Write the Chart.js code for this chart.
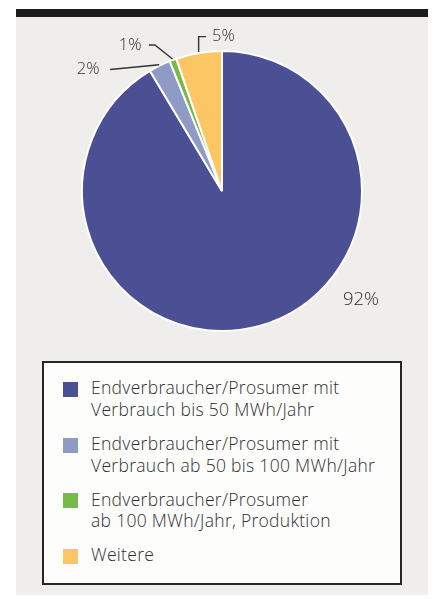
<!DOCTYPE html>
<html>
<head>
<meta charset="utf-8">
<script src="https://cdn.jsdelivr.net/npm/chart.js@4.4.1/dist/chart.umd.min.js"></script>
<style>
  html, body { margin:0; padding:0; background:#ffffff; width:434px; height:599px; overflow:hidden; }
  #panel { position:absolute; left:16px; top:9px; width:412px; height:586px; background:#efeeec; }
  #bar { position:absolute; left:16px; top:9px; width:412px; height:8px; background:#1c1c1c; }
  #chartWrap { position:absolute; left:0; top:0; width:434px; height:360px; }
  #legend { position:absolute; left:42px; top:361px; width:356px; height:220px; border:2px solid #262626;
            background:#fdfdfc; font-family:"Open Sans", Lato, sans-serif; font-weight:300; font-size:17.5px;
            letter-spacing:0.3px; line-height:21.7px; color:#2e2e2e; }
  .item { position:relative; padding-left:47px; margin-bottom:12.3px; white-space:nowrap; }
  .item:first-child { margin-top:14.3px; }
  .sw { position:absolute; left:19px; top:4.7px; width:15px; height:15px; }
</style>
</head>
<body>
<div id="panel"></div>
<div id="bar"></div>
<div id="chartWrap"><canvas id="c" width="434" height="360"></canvas></div>
<div id="legend"></div>
<script>
// ---- data ----
const categories = [
  ["Endverbraucher/Prosumer mit", "Verbrauch bis 50 MWh/Jahr"],
  ["Endverbraucher/Prosumer mit", "Verbrauch ab 50 bis 100 MWh/Jahr"],
  ["Endverbraucher/Prosumer", "ab 100 MWh/Jahr, Produktion"],
  ["Weitere"]
];
const shares = [91.4, 2.5, 0.8, 5.3];
const shareLabels = ["92%", "2%", "1%", "5%"];
const colors = ["#4b4f93", "#8f9ac5", "#77bb46", "#fcc665"];

// ---- label layout (relative to each slice's outer mid-point) ----
const labelLayout = [
  { polar: true, angleDeg: 128, distFactor: 1.26, size: 18.5 },
  { path: [[0,0],[-49,4.7]], text: [-59.7, 9], align: "right", size: 16.5 },
  { path: [[0,0],[-17.7,-14],[-23.7,-14]], text: [-31, -9], align: "right", size: 16.5 },
  { path: [[0,0],[0,-15.3],[7.4,-15.3]], text: [13.4, -11], align: "left", size: 16.5 }
];

const leaderPlugin = {
  id: "leaders",
  afterDatasetsDraw(chart) {
    const ctx = chart.ctx;
    const meta = chart.getDatasetMeta(0);
    meta.data.forEach((arc, i) => {
      const p = arc.getProps(["x","y","startAngle","endAngle","outerRadius"], true);
      const L = labelLayout[i];
      ctx.save();
      ctx.fillStyle = "#2e2e2e";
      ctx.strokeStyle = "#333333";
      ctx.lineWidth = 1.4;
      ctx.font = "300 " + L.size + "px 'Open Sans', Lato, sans-serif";
      if (L.polar) {
        const a = (L.angleDeg - 90) * Math.PI / 180;
        const d = p.outerRadius * L.distFactor;
        ctx.textAlign = "center";
        ctx.textBaseline = "middle";
        ctx.fillText(shareLabels[i], p.x + Math.cos(a) * d, p.y + Math.sin(a) * d);
      } else {
        const mid = (p.startAngle + p.endAngle) / 2;
        const ax = p.x + Math.cos(mid) * (p.outerRadius + 1);
        const ay = p.y + Math.sin(mid) * (p.outerRadius + 1);
        ctx.beginPath();
        L.path.forEach((pt, k) => {
          if (k === 0) ctx.moveTo(ax + pt[0], ay + pt[1]);
          else ctx.lineTo(ax + pt[0], ay + pt[1]);
        });
        ctx.stroke();
        ctx.textAlign = L.align;
        ctx.textBaseline = "alphabetic";
        ctx.fillText(shareLabels[i], ax + L.text[0], ay + L.text[1]);
      }
      ctx.restore();
    });
  }
};

new Chart(document.getElementById("c"), {
  type: "pie",
  data: {
    labels: categories.map(c => c.join(" ")),
    datasets: [{
      data: shares,
      backgroundColor: colors,
      borderColor: "#ffffff",
      borderWidth: 2
    }]
  },
  options: {
    responsive: false,
    animation: false,
    layout: { padding: { left: 81, right: 71, top: 50, bottom: 28 } },
    plugins: { legend: { display: false }, tooltip: { enabled: false } }
  },
  plugins: [leaderPlugin]
});

// ---- HTML legend ----
const leg = document.getElementById("legend");
categories.forEach((lines, i) => {
  const it = document.createElement("div");
  it.className = "item";
  const sw = document.createElement("div");
  sw.className = "sw";
  sw.style.background = colors[i];
  it.appendChild(sw);
  lines.forEach(t => {
    const d = document.createElement("div");
    d.textContent = t;
    it.appendChild(d);
  });
  leg.appendChild(it);
});
</script>
</body>
</html>
